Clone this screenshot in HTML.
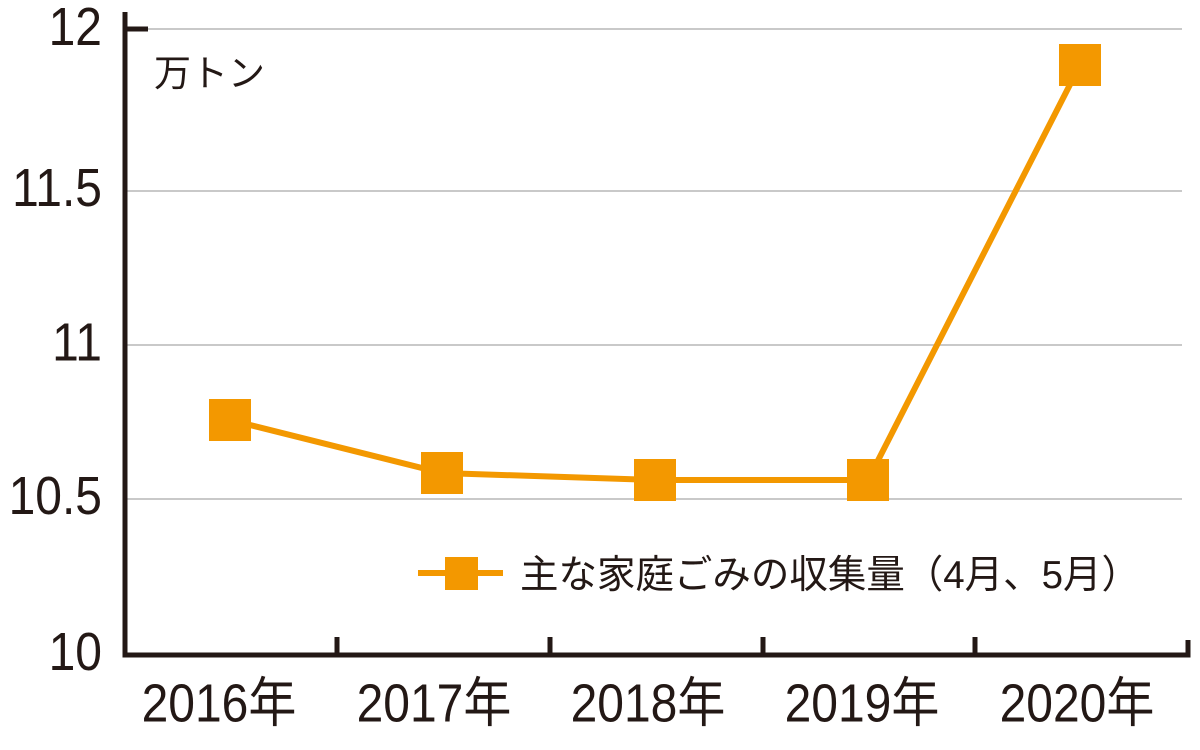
<!DOCTYPE html>
<html><head><meta charset="utf-8"><style>
html,body{margin:0;padding:0;background:#fff;}
svg{display:block;}
text{font-family:"Liberation Sans","Noto Sans CJK JP",sans-serif;fill:#231815;}
</style></head><body>
<svg width="1200" height="750" viewBox="0 0 1200 750">
<g stroke="#c9c9c9" stroke-width="2">
<line x1="148" y1="29" x2="1182" y2="29"/>
<line x1="126" y1="191" x2="1182" y2="191"/>
<line x1="126" y1="345" x2="1182" y2="345"/>
<line x1="126" y1="499" x2="1182" y2="499"/>
</g>
<g stroke="#231815" stroke-width="5" fill="none">
<polyline points="148,29 125,29 125,12 125,655 1188,655 1188,640"/>
<line x1="337" y1="655" x2="337" y2="637"/>
<line x1="550" y1="655" x2="550" y2="637"/>
<line x1="763" y1="655" x2="763" y2="637"/>
<line x1="975" y1="655" x2="975" y2="637"/>
</g>
<g font-size="48" text-anchor="end" transform="scale(1,1.12)">
<text x="102" y="40">12</text>
<text x="102" y="184">11.5</text>
<text x="102" y="322">11</text>
<text x="102" y="459">10.5</text>
<text x="102" y="598">10</text>
</g>
<text x="154" y="86" font-size="37">万トン</text>
<g font-size="48" text-anchor="middle" transform="scale(1,1.12)">
<text x="219" y="644">2016年</text>
<text x="434" y="644">2017年</text>
<text x="648" y="644">2018年</text>
<text x="862" y="644">2019年</text>
<text x="1077" y="644">2020年</text>
</g>
<polyline points="230,420 442,473 655,480 868,480 1080,65" fill="none" stroke="#f39800" stroke-width="6"/>
<g fill="#f39800">
<rect x="209" y="399" width="42" height="42"/>
<rect x="421" y="452" width="42" height="42"/>
<rect x="634" y="459" width="42" height="42"/>
<rect x="847" y="459" width="42" height="42"/>
<rect x="1059" y="44" width="42" height="42"/>
<rect x="445" y="557" width="33" height="33"/>
</g>
<line x1="418" y1="573" x2="503" y2="573" stroke="#f39800" stroke-width="6"/>
<text x="520" y="588" font-size="39" textLength="620" lengthAdjust="spacingAndGlyphs">主な家庭ごみの収集量（4月、5月）</text>
</svg>
</body></html>
